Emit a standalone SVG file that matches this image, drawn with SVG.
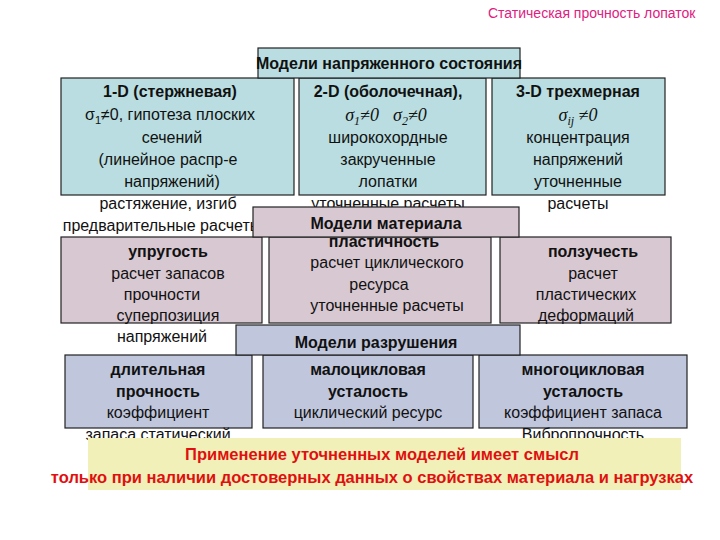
<svg xmlns="http://www.w3.org/2000/svg" width="720" height="540" viewBox="0 0 720 540">
<style>
text{font-family:"Liberation Sans",Arial,sans-serif;font-size:16px;fill:#111;text-anchor:middle}
.b{font-weight:bold}
.s{stroke:#222;stroke-width:1.2}
.bl{fill:#b9dde0}.pk{fill:#d8c8d2}.pb{fill:#c0c6dc}
.r{fill:#e01010;font-weight:bold;font-size:16.5px}
.g{font-family:"Liberation Serif",serif;font-style:italic;font-size:18px}
</style>
<rect width="720" height="540" fill="#fff"/>
<text x="488" y="18" style="fill:#e02080;font-size:14px;text-anchor:start">Статическая прочность лопаток</text>
<g id="stress">
<rect class="s bl" x="61" y="78" width="233" height="117"/>
<rect class="s bl" x="299" y="78" width="187" height="117"/>
<rect class="s bl" x="492" y="78" width="173" height="117"/>
<rect class="s bl" x="258" y="48" width="262" height="30"/>
<text class="b" x="389" y="69">Модели напряженного состояния</text>
<text class="b" x="170" y="97">1-D (стержневая)</text>
<text x="170" y="120">σ<tspan font-size="11" dy="4">1</tspan><tspan dy="-4">≠0, гипотеза плоских</tspan></text>
<text x="172" y="143">сечений</text>
<text x="168" y="165">(линейное распр-е</text>
<text x="172" y="187">напряжений)</text>
<text x="168" y="209">растяжение, изгиб</text>
<text x="162" y="231">предварительные расчеты</text>
<text class="b" x="388" y="97">2-D (оболочечная),</text>
<text class="g" x="386" y="121">σ<tspan font-size="12" dy="4">1</tspan><tspan dy="-4">≠0</tspan><tspan dx="14">σ</tspan><tspan font-size="12" dy="4">2</tspan><tspan dy="-4">≠0</tspan></text>
<text x="388" y="143">широкохордные</text>
<text x="388" y="165">закрученные</text>
<text x="388" y="187">лопатки</text>
<text x="388" y="209">уточненные расчеты</text>
<text class="b" x="578" y="97">3-D трехмерная</text>
<text class="g" x="578" y="121">σ<tspan font-size="12" dy="4">ij</tspan><tspan dy="-4"> ≠0</tspan></text>
<text x="578" y="143">концентрация</text>
<text x="578" y="165">напряжений</text>
<text x="578" y="187">уточненные</text>
<text x="578" y="209">расчеты</text>
</g>
<g id="material">
<rect class="s pk" x="61" y="237" width="201" height="86"/>
<rect class="s pk" x="269" y="237" width="222" height="86"/>
<rect class="s pk" x="500" y="237" width="171" height="86"/>
<rect class="s pk" x="253" y="207" width="266" height="30"/>
<text class="b" x="386" y="229">Модели материала</text>
<text class="b" x="168" y="257">упругость</text>
<text x="168" y="279">расчет запасов</text>
<text x="162" y="300">прочности</text>
<text x="168" y="321">суперпозиция</text>
<text x="162" y="342">напряжений</text>
<text class="b" x="384" y="247">пластичность</text>
<text x="387" y="268">расчет циклического</text>
<text x="379" y="290">ресурса</text>
<text x="387" y="311">уточненные расчеты</text>
<text class="b" x="593" y="257">ползучесть</text>
<text x="593" y="279">расчет</text>
<text x="586" y="300">пластических</text>
<text x="586" y="321">деформаций</text>
</g>
<g id="fracture">
<rect class="s pb" x="65" y="355" width="187" height="73"/>
<rect class="s pb" x="263" y="355" width="210" height="73"/>
<rect class="s pb" x="479" y="355" width="208" height="73"/>
<rect class="s pb" x="236" y="325" width="284" height="30"/>
<text class="b" x="376" y="348">Модели разрушения</text>
<text class="b" x="158" y="375">длительная</text>
<text class="b" x="158" y="397">прочность</text>
<text x="158" y="418">коэффициент</text>
<text x="158" y="440">запаса статический</text>
<text class="b" x="368" y="375">малоцикловая</text>
<text class="b" x="368" y="397">усталость</text>
<text x="368" y="418">циклический ресурс</text>
<text class="b" x="583" y="375">многоцикловая</text>
<text class="b" x="583" y="397">усталость</text>
<text x="583" y="418">коэффициент запаса</text>
<text x="583" y="440">Вибропрочность</text>
</g>
<g id="note">
<rect x="88" y="438" width="593" height="52" fill="#f0f0b8"/>
<text class="r" x="382" y="460">Применение уточненных моделей имеет смысл</text>
<text class="r" x="372" y="483">только при наличии достоверных данных о свойствах материала и нагрузках</text>
</g>
<g id="connectors"></g>
</svg>
